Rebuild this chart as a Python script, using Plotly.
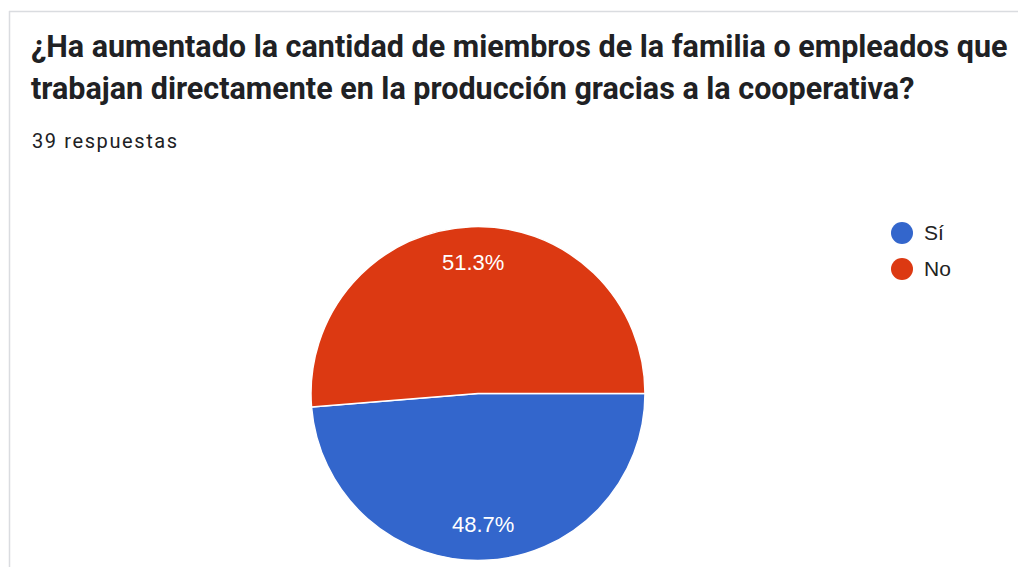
import math
import plotly.graph_objects as go

# ---- data ----
categories = ["Sí", "No"]
counts = [19, 20]
colors = ["#3366cc", "#dc3912"]
title_lines = [
    "¿Ha aumentado la cantidad de miembros de la familia o empleados que",
    "trabajan directamente en la producción gracias a la cooperativa?",
]
subtitle = "39 respuestas"

W, H = 1026, 567
OFF = 8  # page body margin offset
CX, CY, R = 478, 393.5, 167


def px(x):
    return (x - OFF) / W


def py(y):
    return 1 - (y - OFF) / H


fig = go.Figure()
fig.add_trace(go.Pie(
    labels=categories,
    values=counts,
    marker=dict(colors=colors, line=dict(color="white", width=1.5)),
    sort=False,
    direction="clockwise",
    rotation=90,
    textinfo="none",
    hoverinfo="label+percent",
    showlegend=False,
    domain=dict(x=[px(CX - R), px(CX + R)], y=[py(CY + R), py(CY - R)]),
))

annotations = []
# title
for i, line in enumerate(title_lines):
    annotations.append(dict(
        text="<b>" + line + "</b>", x=px(29), y=py(46 + 42 * i),
        xref="paper", yref="paper", xanchor="left", yanchor="middle",
        showarrow=False, font=dict(family="Roboto", size=30.5, color="#202124"),
    ))
annotations.append(dict(
    text='<span style="letter-spacing:1.6px">' + subtitle + "</span>",
    x=px(30), y=py(141), xref="paper", yref="paper",
    xanchor="left", yanchor="middle", showarrow=False,
    font=dict(family="Roboto", size=20, color="#202124"),
))

# percentage labels computed from data
total = sum(counts)
start = 0.0
for v in counts:
    frac = v / total
    mid = (start + frac / 2) * 2 * math.pi  # clockwise from 3 o'clock
    start += frac
    lx = CX + 0.785 * R * math.cos(mid)
    ly = CY + 0.785 * R * math.sin(mid)
    annotations.append(dict(
        text=f"{frac * 100:.1f}%", x=px(lx), y=py(ly),
        xref="paper", yref="paper", xanchor="center", yanchor="middle",
        showarrow=False,
        font=dict(family="Liberation Sans, Arial", size=22, color="white"),
    ))

# legend (circles + labels)
shapes = []
for i, (cat, col) in enumerate(zip(categories, colors)):
    ly = 233 + 36 * i
    shapes.append(dict(
        type="circle", xref="paper", yref="paper",
        x0=px(902 - 11), x1=px(902 + 11), y0=py(ly + 11), y1=py(ly - 11),
        fillcolor=col, line=dict(width=0),
    ))
    annotations.append(dict(
        text=cat, x=px(922), y=py(ly - 1), xref="paper", yref="paper",
        xanchor="left", yanchor="middle", showarrow=False,
        font=dict(family="Liberation Sans, Arial", size=21, color="#222222"),
    ))

# card border
shapes.append(dict(type="line", xref="paper", yref="paper",
                   x0=px(9), x1=1, y0=py(11.5), y1=py(11.5),
                   line=dict(color="#dadce0", width=1.5)))
shapes.append(dict(type="line", xref="paper", yref="paper",
                   x0=px(9.5), x1=px(9.5), y0=py(11), y1=0,
                   line=dict(color="#dadce0", width=1.5)))

fig.update_layout(
    width=W, height=H,
    margin=dict(l=0, r=0, t=0, b=0),
    paper_bgcolor="white", plot_bgcolor="white",
    annotations=annotations, shapes=shapes,
)

fig.write_html("out.html")
